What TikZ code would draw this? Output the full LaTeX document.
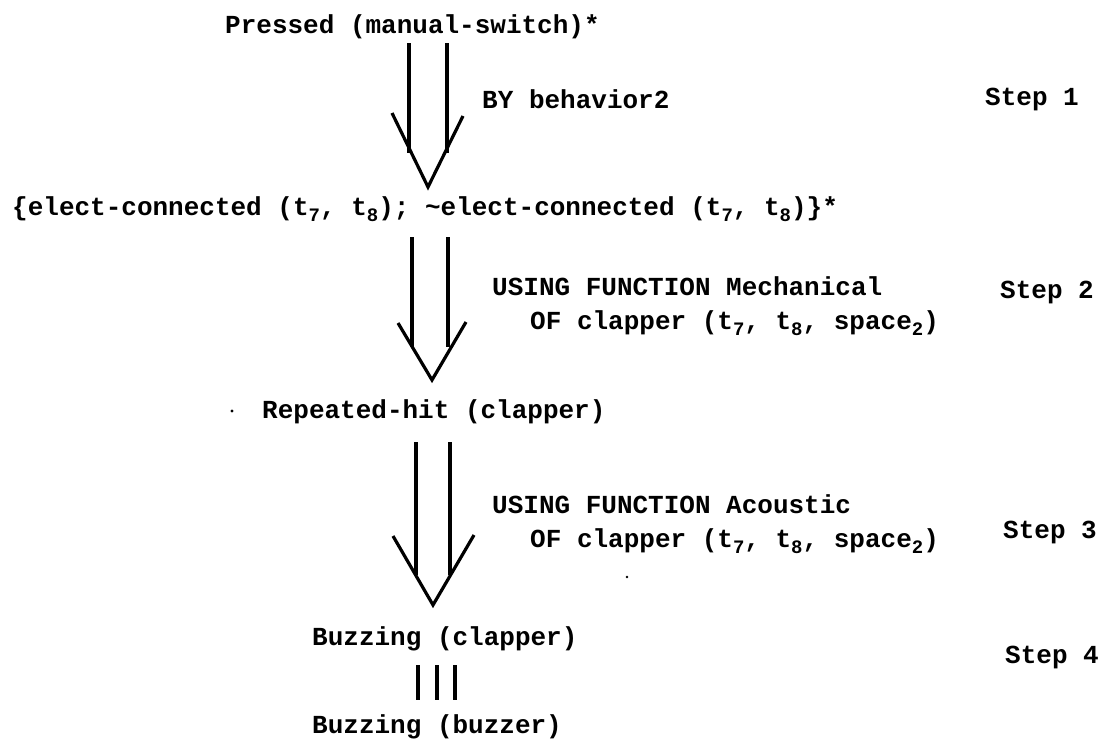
\documentclass[tikz,border=0pt]{standalone}
\usepackage{fontspec}
\setmonofont{Liberation Mono}
\usetikzlibrary{calc}
\newcommand\lowsub[1]{\raisebox{-0.45ex}{\fontsize{19}{20}\selectfont #1}}
\begin{document}
\begin{tikzpicture}[x=1pt,y=-1pt,
  txt/.style={anchor=base west,inner sep=0pt,font=\fontsize{26}{30}\selectfont\ttfamily\bfseries},
  shaft/.style={line width=3.2pt},
  arm/.style={line width=3.2pt,line join=miter}]
\useasboundingbox (0,0) rectangle (1103,747);
% texts
\node[txt] (pressed) at (225,33) {Pressed (manual-switch)*};
\node[txt] (by) at (482,108) {BY behavior2};
\node[txt] (step1) at (985,105) {Step 1};
\node[txt] (state2) at (12,215) {\{elect-connected (t\lowsub{7}, t\lowsub{8}); \char"007Eelect-connected (t\lowsub{7}, t\lowsub{8})\}*};
\node[txt] (using1) at (492,295) {USING FUNCTION Mechanical};
\node[txt] (of1) at (530,329) {OF clapper (t\lowsub{7}, t\lowsub{8}, space\lowsub{2})};
\node[txt] (step2) at (1000,298) {Step 2};
\node[txt] (rep) at (262,418) {Repeated-hit (clapper)};
\node[txt] (using2) at (492,513) {USING FUNCTION Acoustic};
\node[txt] (of2) at (530,547) {OF clapper (t\lowsub{7}, t\lowsub{8}, space\lowsub{2})};
\node[txt] (step3) at (1003,538) {Step 3};
\node[txt] (buzz1) at (312,645) {Buzzing (clapper)};
\node[txt] (step4) at (1005,663) {Step 4};
\node[txt] (buzz2) at (312,733) {Buzzing (buzzer)};
% stray dots
\fill (232,411) circle (1.6);
\fill (627,577) circle (1.4);
% arrow 1
\coordinate (t1) at (428,187);
\draw[shaft] (409,43) -- (409,153);
\draw[shaft] (447,43) -- (447,153);
\draw[arm] (392,113) -- (t1) -- (463,116);
% arrow 2
\coordinate (t2) at (432,380);
\draw[shaft] (412,237) -- (412,347);
\draw[shaft] (448,237) -- (448,347);
\draw[arm] (398,323) -- (t2) -- (466,322);
% arrow 3
\coordinate (t3) at (433,605);
\draw[shaft] (416,442) -- (416,575);
\draw[shaft] (450,442) -- (450,575);
\draw[arm] (393,536) -- (t3) -- (474,535);
% equivalence bars
\draw[shaft] (418,665) -- (418,700);
\draw[shaft] (437,665) -- (437,700);
\draw[shaft] (455,665) -- (455,700);
\end{tikzpicture}
\end{document}
